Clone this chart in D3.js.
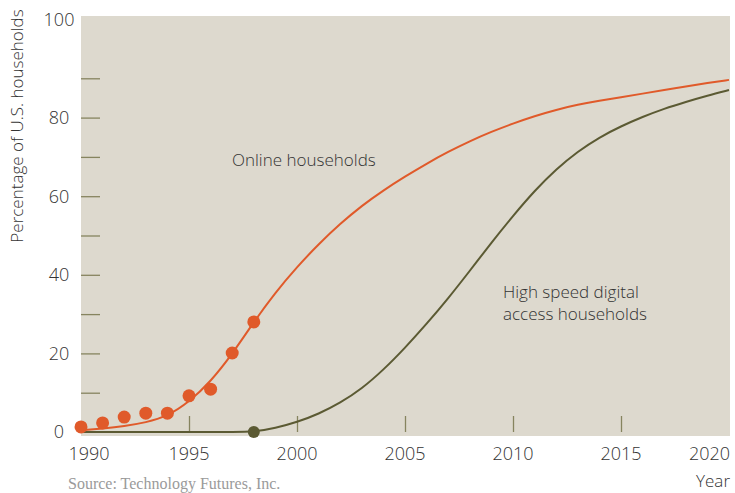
<!DOCTYPE html>
<html>
<head>
<meta charset="utf-8">
<script src="https://cdn.jsdelivr.net/npm/d3@7"></script>
<style>
  html, body { margin: 0; padding: 0; background: #ffffff; }
  svg { display: block; }
  .sans { font-family: "Open Sans", "DejaVu Sans", sans-serif; font-weight: 300; }
  .serif { font-family: "Liberation Serif", "Times New Roman", serif; }
</style>
</head>
<body>
<svg id="chart" width="735" height="493"></svg>
<script>
// Survey observations of online households (percent of U.S. households)
const onlineYears = [1990, 1991, 1992, 1993, 1994, 1995, 1996, 1997, 1998];
const onlineObserved = [1.3, 2.3, 3.8, 4.8, 4.8, 9.2, 10.9, 20.1, 28.0];

// Observed high speed digital access point
const broadbandObservedYears = [1998];
const broadbandObserved = [0];

// Forecast curves, yearly values
const curveYears = [1990, 1991, 1992, 1993, 1994, 1995, 1996, 1997, 1998, 1999,
  2000, 2001, 2002, 2003, 2004, 2005, 2006, 2007, 2008, 2009,
  2010, 2011, 2012, 2013, 2014, 2015, 2016, 2017, 2018, 2019, 2020];
const onlineForecast = [0.4, 0.9, 1.5, 2.4, 4.0, 7.6, 12.8, 19.8, 28.0, 35.5,
  42.0, 47.8, 53.0, 57.6, 61.5, 65.0, 68.3, 71.3, 74.0, 76.4,
  78.5, 80.4, 82.0, 83.3, 84.3, 85.2, 86.1, 87.0, 87.9, 88.8, 89.6];
const broadbandForecast = [0, 0, 0, 0, 0, 0, 0, 0, 0, 1.0,
  2.5, 4.6, 7.4, 11.0, 15.8, 21.4, 27.5, 34.0, 41.0, 48.2,
  55.0, 61.4, 66.9, 71.4, 75.0, 77.8, 80.2, 82.3, 84.0, 85.6, 87.0];

// Axis ticks and labels
const xTickLabels = [1990, 1995, 2000, 2005, 2010, 2015, 2020];
const xTickMarks = [1995, 2000, 2005, 2010, 2015];
const yTickLabels = [0, 20, 40, 60, 80, 100];
const yTickMarks = [10, 20, 30, 40, 50, 60, 70, 80, 90];

const svg = d3.select("#chart");
const panel = { left: 81, right: 730, top: 16, bottom: 436 };

const x = d3.scaleLinear().domain([1990, 2020]).range([81, 729]);
const y = d3.scaleLinear().domain([0, 100]).range([432, 39]);

const colors = {
  panel: "#ddd9ce",
  online: "#e05a2a",
  broadband: "#5b5a33",
  tick: "#86845f",
  text: "#333333",
  source: "#9a9a9a"
};

// Plot background
svg.append("rect")
  .attr("x", panel.left).attr("y", panel.top)
  .attr("width", panel.right - panel.left)
  .attr("height", panel.bottom - panel.top)
  .attr("fill", colors.panel);

// Y tick marks drawn inside the panel
const yTicks = d3.axisRight(y).tickValues(yTickMarks).tickSize(19).tickFormat("");
const gy = svg.append("g").attr("transform", `translate(${panel.left},0)`).call(yTicks);
gy.select(".domain").remove();
gy.selectAll(".tick line").attr("stroke", colors.tick).attr("stroke-width", 1.3);

// Y tick labels, the top label sits at the panel edge
svg.append("g").selectAll("text")
  .data(yTickLabels)
  .join("text")
  .attr("class", "sans")
  .attr("x", 59)
  .attr("y", d => d === 100 ? panel.top + 3.5 : y(d))
  .attr("dy", "0.36em")
  .attr("text-anchor", "middle")
  .attr("font-size", 18)
  .attr("fill", colors.text)
  .text(d => d);

// X tick marks rising from the panel bottom
const xTicks = d3.axisTop(x).tickValues(xTickMarks).tickSize(16).tickFormat("");
const gx = svg.append("g").attr("transform", `translate(0,432)`).call(xTicks);
gx.select(".domain").remove();
gx.selectAll(".tick line").attr("stroke", colors.tick).attr("stroke-width", 1.3);

// X tick labels
const firstYear = xTickLabels[0], lastYear = xTickLabels[xTickLabels.length - 1];
svg.append("g").selectAll("text")
  .data(xTickLabels)
  .join("text")
  .attr("class", "sans")
  .attr("x", d => d === firstYear ? x(d) + 8 : d === lastYear ? x(d) + 1 : x(d))
  .attr("y", 460)
  .attr("text-anchor", d => d === lastYear ? "end" : "middle")
  .attr("font-size", 18)
  .attr("fill", colors.text)
  .text(d => d);

// Axis titles
svg.append("text")
  .attr("class", "sans")
  .attr("x", 730).attr("y", 487)
  .attr("text-anchor", "end")
  .attr("font-size", 17)
  .attr("fill", colors.text)
  .text("Year");

svg.append("text")
  .attr("class", "sans")
  .attr("transform", "translate(23,126) rotate(-90)")
  .attr("text-anchor", "middle")
  .attr("font-size", 17)
  .attr("fill", colors.text)
  .text("Percentage of U.S. households");

// Forecast lines, smoothed through the yearly values
const line = d3.line()
  .x((d, i) => x(curveYears[i]))
  .y(d => y(d))
  .curve(d3.curveBasis);

svg.append("path")
  .attr("d", line(broadbandForecast))
  .attr("fill", "none")
  .attr("stroke", colors.broadband)
  .attr("stroke-width", 2);

svg.append("path")
  .attr("d", line(onlineForecast))
  .attr("fill", "none")
  .attr("stroke", colors.online)
  .attr("stroke-width", 2);

// Observed points
svg.append("g").selectAll("circle")
  .data(onlineObserved)
  .join("circle")
  .attr("cx", (d, i) => x(onlineYears[i]))
  .attr("cy", d => y(d))
  .attr("r", 6.5)
  .attr("fill", colors.online);

svg.append("g").selectAll("circle")
  .data(broadbandObserved)
  .join("circle")
  .attr("cx", (d, i) => x(broadbandObservedYears[i]))
  .attr("cy", d => y(d))
  .attr("r", 6)
  .attr("fill", colors.broadband);

// Series labels
svg.append("text")
  .attr("class", "sans")
  .attr("x", 232).attr("y", 166)
  .attr("font-size", 17)
  .attr("fill", colors.text)
  .text("Online households");

const bbLabel = svg.append("text")
  .attr("class", "sans")
  .attr("x", 503).attr("y", 298)
  .attr("font-size", 17)
  .attr("fill", colors.text);
bbLabel.append("tspan").attr("x", 503).attr("dy", 0).text("High speed digital");
bbLabel.append("tspan").attr("x", 503).attr("dy", 22).text("access households");

// Source note
svg.append("text")
  .attr("class", "serif")
  .attr("x", 68).attr("y", 489)
  .attr("font-size", 16)
  .attr("fill", colors.source)
  .text("Source: Technology Futures, Inc.");
</script>
</body>
</html>
